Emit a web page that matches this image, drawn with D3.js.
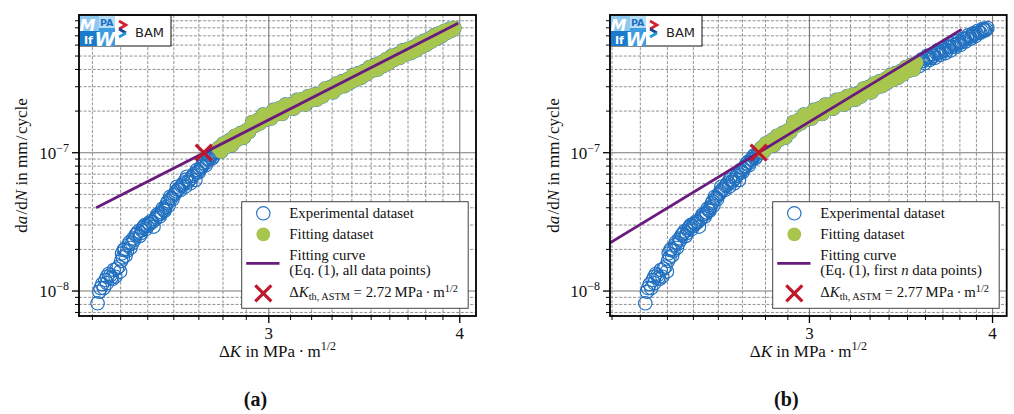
<!DOCTYPE html>
<html><head><meta charset="utf-8">
<script src="https://cdn.jsdelivr.net/npm/d3@7"></script>
<style>
html,body{margin:0;padding:0;background:#fff;}
svg{display:block;}
text{font-family:"Liberation Serif","Times New Roman",serif;fill:#111;}
</style></head><body>
<svg id="chart" width="1014" height="414"></svg>
<script>
// Crack growth measurements: [ΔK in MPa·m^1/2, da/dN in mm/cycle]
const measurements = [
  [2.318, 8.15e-9], [2.324, 9.88e-9], [2.328, 1.05e-8], [2.334, 1.12e-8], [2.340, 1.05e-8], [2.345, 1.20e-8],
  [2.351, 1.14e-8], [2.351, 1.27e-8], [2.357, 1.33e-8], [2.363, 1.30e-8], [2.366, 1.25e-8], [2.370, 1.22e-8],
  [2.375, 1.42e-8], [2.381, 1.27e-8], [2.386, 1.45e-8], [2.393, 1.50e-8], [2.398, 1.38e-8], [2.402, 1.65e-8],
  [2.405, 1.87e-8], [2.408, 1.75e-8], [2.411, 1.98e-8], [2.415, 2.02e-8], [2.418, 1.80e-8], [2.423, 1.95e-8],
  [2.429, 2.15e-8], [2.432, 2.25e-8], [2.436, 2.05e-8], [2.442, 2.21e-8], [2.446, 2.40e-8], [2.450, 2.35e-8],
  [2.455, 2.55e-8], [2.460, 2.61e-8], [2.465, 2.70e-8], [2.470, 2.50e-8], [2.474, 2.62e-8], [2.478, 2.75e-8],
  [2.482, 2.85e-8], [2.485, 2.92e-8], [2.489, 3.00e-8], [2.493, 2.80e-8], [2.498, 2.95e-8], [2.503, 3.09e-8],
  [2.507, 3.05e-8], [2.512, 3.20e-8], [2.517, 3.15e-8], [2.522, 2.92e-8], [2.528, 3.30e-8], [2.532, 3.40e-8],
  [2.535, 3.55e-8], [2.540, 3.60e-8], [2.545, 3.45e-8], [2.549, 3.62e-8], [2.553, 3.70e-8], [2.557, 3.95e-8],
  [2.561, 3.85e-8], [2.564, 3.80e-8], [2.568, 4.05e-8], [2.574, 4.31e-8], [2.577, 4.45e-8], [2.580, 4.15e-8],
  [2.586, 4.81e-8], [2.590, 4.70e-8], [2.595, 4.60e-8], [2.600, 4.95e-8], [2.606, 5.09e-8], [2.609, 5.25e-8],
  [2.612, 5.68e-8], [2.616, 5.40e-8], [2.620, 5.50e-8], [2.626, 5.37e-8], [2.630, 5.75e-8], [2.635, 5.90e-8],
  [2.640, 6.10e-8], [2.645, 5.68e-8], [2.648, 6.40e-8], [2.652, 6.71e-8], [2.656, 6.15e-8], [2.660, 6.30e-8],
  [2.666, 6.01e-8], [2.670, 6.55e-8], [2.675, 6.80e-8], [2.680, 7.00e-8], [2.686, 6.35e-8], [2.692, 7.50e-8],
  [2.696, 7.30e-8], [2.700, 7.20e-8], [2.705, 7.60e-8], [2.710, 7.90e-8], [2.714, 8.00e-8], [2.719, 8.38e-8],
  [2.724, 8.60e-8], [2.728, 8.10e-8], [2.733, 8.50e-8], [2.737, 8.90e-8], [2.742, 9.00e-8], [2.746, 9.36e-8],
  [2.751, 9.60e-8], [2.755, 9.10e-8], [2.760, 9.40e-8], [2.765, 9.80e-8], [2.770, 1.00e-7], [2.774, 1.017e-7],
  [2.780, 1.081e-7], [2.792, 1.016e-7], [2.801, 1.167e-7], [2.808, 1.12e-7], [2.815, 1.104e-7], [2.826, 1.230e-7],
  [2.838, 1.130e-7], [2.845, 1.20e-7], [2.851, 1.327e-7], [2.864, 1.242e-7], [2.875, 1.387e-7], [2.882, 1.33e-7],
  [2.889, 1.285e-7], [2.899, 1.449e-7], [2.912, 1.409e-7], [2.918, 1.52e-7], [2.925, 1.667e-7], [2.937, 1.560e-7],
  [2.950, 1.722e-7], [2.956, 1.68e-7], [2.961, 1.629e-7], [2.973, 1.888e-7], [2.986, 1.726e-7], [2.992, 1.80e-7],
  [2.998, 1.888e-7], [3.011, 1.766e-7], [3.021, 2.042e-7], [3.028, 1.95e-7], [3.034, 1.897e-7], [3.048, 2.099e-7],
  [3.061, 1.905e-7], [3.068, 2.06e-7], [3.075, 2.228e-7], [3.088, 2.070e-7], [3.102, 2.239e-7], [3.109, 2.17e-7],
  [3.116, 2.084e-7], [3.130, 2.410e-7], [3.143, 2.239e-7], [3.150, 2.33e-7], [3.157, 2.449e-7], [3.170, 2.223e-7],
  [3.184, 2.570e-7], [3.191, 2.47e-7], [3.198, 2.388e-7], [3.212, 2.636e-7], [3.226, 2.421e-7], [3.232, 2.56e-7],
  [3.239, 2.667e-7], [3.253, 2.547e-7], [3.266, 2.917e-7], [3.273, 2.80e-7], [3.280, 2.729e-7], [3.294, 2.992e-7],
  [3.307, 2.729e-7], [3.314, 2.93e-7], [3.321, 3.170e-7], [3.335, 2.958e-7], [3.349, 3.281e-7], [3.356, 3.15e-7],
  [3.363, 3.027e-7], [3.377, 3.396e-7], [3.391, 3.206e-7], [3.398, 3.40e-7], [3.405, 3.639e-7], [3.419, 3.350e-7],
  [3.434, 3.767e-7], [3.441, 3.62e-7], [3.448, 3.475e-7], [3.462, 3.890e-7], [3.477, 3.681e-7], [3.484, 3.85e-7],
  [3.491, 4.169e-7], [3.506, 3.899e-7], [3.520, 4.315e-7], [3.528, 4.12e-7], [3.535, 3.990e-7], [3.550, 4.477e-7],
  [3.565, 4.227e-7], [3.572, 4.55e-7], [3.580, 4.742e-7], [3.588, 4.60e-7], [3.595, 4.426e-7], [3.603, 4.80e-7],
  [3.610, 5.023e-7], [3.618, 4.90e-7], [3.625, 4.688e-7], [3.632, 4.85e-7], [3.640, 5.140e-7], [3.648, 5.00e-7],
  [3.655, 4.853e-7], [3.662, 5.25e-7], [3.670, 5.495e-7], [3.678, 5.30e-7], [3.685, 5.105e-7], [3.692, 5.35e-7],
  [3.700, 5.649e-7], [3.708, 5.50e-7], [3.715, 5.248e-7], [3.722, 5.50e-7], [3.729, 5.794e-7], [3.737, 5.85e-7],
  [3.744, 5.470e-7], [3.752, 5.80e-7], [3.759, 6.138e-7], [3.767, 6.00e-7], [3.774, 5.808e-7], [3.782, 6.10e-7],
  [3.789, 6.442e-7], [3.797, 6.25e-7], [3.804, 6.012e-7], [3.812, 6.30e-7], [3.819, 6.683e-7], [3.827, 6.60e-7],
  [3.834, 6.368e-7], [3.842, 6.70e-7], [3.849, 7.063e-7], [3.857, 6.90e-7], [3.864, 6.668e-7], [3.872, 6.95e-7],
  [3.879, 7.311e-7], [3.887, 7.20e-7], [3.894, 6.966e-7], [3.902, 7.25e-7], [3.909, 7.621e-7], [3.917, 7.45e-7],
  [3.924, 7.362e-7], [3.932, 7.60e-7], [3.939, 7.870e-7], [3.946, 7.75e-7], [3.953, 7.621e-7], [3.960, 7.80e-7],
  [3.968, 7.980e-7]
];

// ΔK ranges used for fitting in each panel
const fitRangeA = [2.78, 3.97];
const fitRangeB = [2.78, 3.555];

// Fitted curves (straight lines in log-log space), endpoints
const fitLineA_dK = [2.313, 3.99];
const fitLineA_dadN = [4.0e-8, 8.62e-7];
const fitLineB_dK = [2.15, 3.81];
const fitLineB_dadN = [1.96e-8, 7.8e-7];

// ASTM threshold values at da/dN = 1e-7 mm/cycle
const thresholdRate = 1e-7;
const thresholdA = 2.72;
const thresholdB = 2.77;

// Axis limits and labelled ticks
const xDomainA = [2.254, 4.099];
const xDomainB = [2.193, 4.09];
const yDomain = [6.6e-9, 9.9e-7];
const xMajorTicks = [3, 4];
const xMajorLabels = ["3", "4"];
const yMajorTicks = [1e-8, 1e-7];
const yMajorExponents = ["\u22128", "\u22127"];

const legendLabels = ["Experimental dataset", "Fitting dataset", "Fitting curve"];

const C_BLUE = "#2170c0", C_GREEN = "#a8c64e", C_PURPLE = "#6a1b7e", C_RED = "#c0182b";
const Y_TOP = 15, Y_BOTTOM = 316;

const svg = d3.select("#chart");
const points = measurements.map(([k, r]) => ({k, r}));

const panels = [
  {left: 79, right: 476, xDomain: xDomainA, fitRange: fitRangeA, lineK: fitLineA_dK, lineR: fitLineA_dadN,
   th: thresholdA, legendLeft: 241.7, caption: "(a)", ylabX: 27, note: "all"},
  {left: 610, right: 1006.7, xDomain: xDomainB, fitRange: fitRangeB, lineK: fitLineB_dK, lineR: fitLineB_dadN,
   th: thresholdB, legendLeft: 772.7, caption: "(b)", ylabX: 559, note: "first"}
];

function xMark(sel, cx, cy, half, w) {
  sel.append("path")
    .attr("d", `M${cx-half},${cy-half}L${cx+half},${cy+half}M${cx-half},${cy+half}L${cx+half},${cy-half}`)
    .attr("stroke", C_RED).attr("stroke-width", w).attr("fill", "none");
}

panels.forEach((p, idx) => {
  const x = d3.scaleLog().domain(p.xDomain).range([p.left, p.right]);
  const y = d3.scaleLog().domain(yDomain).range([Y_BOTTOM, Y_TOP]);
  const g = svg.append("g");
  const clipId = "plotclip" + idx;
  g.append("clipPath").attr("id", clipId).append("rect")
    .attr("x", p.left).attr("y", Y_TOP).attr("width", p.right - p.left).attr("height", Y_BOTTOM - Y_TOP);

  // minor / major tick values
  const xMinor = d3.range(20, 42).map(v => v / 10)
    .filter(v => v >= p.xDomain[0] && v <= p.xDomain[1] && !xMajorTicks.includes(v));
  const yMinor = [];
  [-9, -8, -7].forEach(e => { for (let m = 2; m <= 9; m++) { const v = m * Math.pow(10, e); if (v >= yDomain[0] && v <= yDomain[1]) yMinor.push(v); } });

  // grid
  const grid = g.append("g");
  xMinor.forEach(v => grid.append("line").attr("x1", x(v)).attr("x2", x(v)).attr("y1", Y_TOP).attr("y2", Y_BOTTOM)
    .attr("stroke", "#777").attr("stroke-width", 0.8).attr("stroke-dasharray", "3,1.6"));
  yMinor.forEach(v => grid.append("line").attr("y1", y(v)).attr("y2", y(v)).attr("x1", p.left).attr("x2", p.right)
    .attr("stroke", "#777").attr("stroke-width", 0.8).attr("stroke-dasharray", "3,1.6"));
  xMajorTicks.forEach(v => grid.append("line").attr("x1", x(v)).attr("x2", x(v)).attr("y1", Y_TOP).attr("y2", Y_BOTTOM)
    .attr("stroke", "#7a7a7a").attr("stroke-width", 1.1));
  yMajorTicks.forEach(v => grid.append("line").attr("y1", y(v)).attr("y2", y(v)).attr("x1", p.left).attr("x2", p.right)
    .attr("stroke", "#7a7a7a").attr("stroke-width", 1.1));

  // data
  const dataG = g.append("g").attr("clip-path", `url(#${clipId})`);
  dataG.selectAll("circle.exp").data(points).join("circle").attr("class", "exp")
    .attr("cx", d => x(d.k)).attr("cy", d => y(d.r)).attr("r", 6.7)
    .attr("fill", "none").attr("stroke", C_BLUE).attr("stroke-width", 1.15);
  const fitPts = points.filter(d => d.k >= p.fitRange[0] && d.k <= p.fitRange[1]);
  dataG.selectAll("circle.fit").data(fitPts).join("circle").attr("class", "fit")
    .attr("cx", d => x(d.k)).attr("cy", d => y(d.r)).attr("r", 6.9)
    .attr("fill", C_GREEN).attr("stroke", "none");
  const lineData = p.lineK.map((k, i) => [k, p.lineR[i]]);
  dataG.append("path").datum(lineData)
    .attr("d", d3.line().x(d => x(d[0])).y(d => y(d[1])))
    .attr("stroke", C_PURPLE).attr("stroke-width", 2.8).attr("fill", "none");
  xMark(dataG, x(p.th), y(thresholdRate), 8, 3.2);

  // legend
  const L = g.append("g");
  const lx = p.legendLeft, ly = 201.7;
  L.append("rect").attr("x", lx).attr("y", ly).attr("width", 226.5).attr("height", 106.6)
    .attr("fill", "#fff").attr("stroke", "#444").attr("stroke-width", 1);
  const mx = lx + 21.6, tx = lx + 47.6;
  L.append("circle").attr("cx", mx).attr("cy", 213.3).attr("r", 6.7).attr("fill", "none").attr("stroke", C_BLUE).attr("stroke-width", 1.15);
  L.append("circle").attr("cx", mx).attr("cy", 234.3).attr("r", 6.9).attr("fill", C_GREEN);
  L.append("line").attr("x1", lx + 4.5).attr("x2", lx + 37.8).attr("y1", 263.3).attr("y2", 263.3).attr("stroke", C_PURPLE).attr("stroke-width", 2.8);
  xMark(L, mx, 293.3, 8, 3.2);
  const fs = 14.8;
  L.append("text").attr("x", tx).attr("y", 217.6).attr("font-size", fs).text(legendLabels[0]);
  L.append("text").attr("x", tx).attr("y", 238.6).attr("font-size", fs).text(legendLabels[1]);
  L.append("text").attr("x", tx).attr("y", 259.8).attr("font-size", fs).text(legendLabels[2]);
  const t4 = L.append("text").attr("x", tx).attr("y", 275).attr("font-size", fs);
  if (p.note === "all") {
    t4.text("(Eq. (1), all data points)");
  } else {
    t4.append("tspan").text("(Eq. (1), first ");
    t4.append("tspan").attr("font-style", "italic").text("n");
    t4.append("tspan").text(" data points)");
  }
  const t5 = L.append("text").attr("x", tx).attr("y", 297.2).attr("font-size", fs);
  t5.append("tspan").text("\u0394");
  t5.append("tspan").attr("font-style", "italic").text("K");
  t5.append("tspan").attr("font-size", 10.3).attr("dy", 3.2).text("th, ASTM");
  t5.append("tspan").attr("dy", -3.2).text(" = " + p.th.toFixed(2) + "\u2009MPa\u2009\u00b7\u2009m");
  t5.append("tspan").attr("font-size", 10.3).attr("dy", -5.5).text("1/2");

  // institute logos
  const lg = g.append("g");
  const ox = p.left, oy = Y_TOP;
  const sans = "'DejaVu Sans', 'Liberation Sans', sans-serif";
  lg.append("rect").attr("x", ox).attr("y", oy).attr("width", 92).attr("height", 31).attr("fill", "#fff").attr("stroke", "#111").attr("stroke-width", 1);
  lg.append("rect").attr("x", ox).attr("y", oy).attr("width", 36).attr("height", 31).attr("fill", "#3d9be0");
  lg.append("rect").attr("x", ox).attr("y", oy).attr("width", 20).attr("height", 16).attr("fill", "#8cc8ef");
  lg.append("rect").attr("x", ox + 20).attr("y", oy).attr("width", 16).attr("height", 13).attr("fill", "#b9ddf4");
  lg.append("rect").attr("x", ox).attr("y", oy + 16).attr("width", 20).attr("height", 15).attr("fill", "#1a7acb");
  lg.append("text").attr("x", ox + 0.5).attr("y", oy + 15.5).style("font-family", sans).style("font-style", "italic").style("font-weight", "bold").attr("font-size", 16).style("fill", "#fff").text("M");
  lg.append("text").attr("x", ox + 21).attr("y", oy + 10.5).style("font-family", sans).style("font-weight", "bold").attr("font-size", 9.5).style("fill", "#1c6fc2").text("PA");
  lg.append("text").attr("x", ox + 5).attr("y", oy + 29).style("font-family", sans).style("font-weight", "bold").attr("font-size", 11).style("fill", "#fff").text("If");
  lg.append("text").attr("x", ox + 15.5).attr("y", oy + 30.5).style("font-family", sans).style("font-style", "italic").style("font-weight", "bold").attr("font-size", 19).style("fill", "#fff").text("W");
  lg.append("polyline").attr("points", `${ox+40},${oy+6} ${ox+47},${oy+10} ${ox+40},${oy+14}`).attr("fill", "none").attr("stroke", "#d3202e").attr("stroke-width", 2.6);
  lg.append("polyline").attr("points", `${ox+40},${oy+14} ${ox+47},${oy+18}`).attr("fill", "none").attr("stroke", "#1f3f8f").attr("stroke-width", 2.6);
  lg.append("polyline").attr("points", `${ox+47},${oy+18} ${ox+40},${oy+22}`).attr("fill", "none").attr("stroke", "#1d9ad8").attr("stroke-width", 2.6);
  lg.append("text").attr("x", ox + 56).attr("y", oy + 21.5).style("font-family", sans).attr("font-size", 13).style("fill", "#222").text("BAM");

  // axes ticks
  const ax = g.append("g");
  xMinor.forEach(v => ax.append("line").attr("x1", x(v)).attr("x2", x(v)).attr("y1", Y_BOTTOM).attr("y2", Y_BOTTOM + 4).attr("stroke", "#000").attr("stroke-width", 1));
  xMajorTicks.forEach((v, i) => {
    ax.append("line").attr("x1", x(v)).attr("x2", x(v)).attr("y1", Y_BOTTOM).attr("y2", Y_BOTTOM + 7).attr("stroke", "#000").attr("stroke-width", 1.3);
    ax.append("text").attr("x", x(v)).attr("y", 338.5).attr("text-anchor", "middle").attr("font-size", 17).text(xMajorLabels[i]);
  });
  yMinor.forEach(v => ax.append("line").attr("y1", y(v)).attr("y2", y(v)).attr("x1", p.left - 4).attr("x2", p.left).attr("stroke", "#000").attr("stroke-width", 1));
  yMajorTicks.forEach((v, i) => {
    ax.append("line").attr("y1", y(v)).attr("y2", y(v)).attr("x1", p.left - 7).attr("x2", p.left).attr("stroke", "#000").attr("stroke-width", 1.3);
    const t = ax.append("text").attr("x", p.left - 10).attr("y", y(v) + 6).attr("text-anchor", "end").attr("font-size", 17);
    t.append("tspan").text("10");
    t.append("tspan").attr("font-size", 12).attr("dy", -7).text(yMajorExponents[i]);
  });

  // frame
  g.append("rect").attr("x", p.left).attr("y", Y_TOP).attr("width", p.right - p.left).attr("height", Y_BOTTOM - Y_TOP)
    .attr("fill", "none").attr("stroke", "#000").attr("stroke-width", 1.8);

  // axis titles
  const xt = g.append("text").attr("x", (p.left + p.right) / 2).attr("y", 356.5).attr("text-anchor", "middle").attr("font-size", 17);
  xt.append("tspan").text("\u0394");
  xt.append("tspan").attr("font-style", "italic").text("K");
  xt.append("tspan").text(" in MPa\u2009\u00b7\u2009m");
  xt.append("tspan").attr("font-size", 12).attr("dy", -7).text("1/2");

  const yt = g.append("text").attr("transform", `translate(${p.ylabX},165.5) rotate(-90)`).attr("text-anchor", "middle").attr("font-size", 17);
  yt.append("tspan").text("d");
  yt.append("tspan").attr("font-style", "italic").text("a");
  yt.append("tspan").text("\u200a/d");
  yt.append("tspan").attr("font-style", "italic").text("N");
  yt.append("tspan").text(" in mm\u200a/\u200acycle");

  // caption
  g.append("text").attr("x", (p.left + p.right) / 2 - 22).attr("y", 406).attr("text-anchor", "middle")
    .attr("font-size", 20).attr("font-weight", "bold").text(p.caption);
});
</script>
</body></html>
